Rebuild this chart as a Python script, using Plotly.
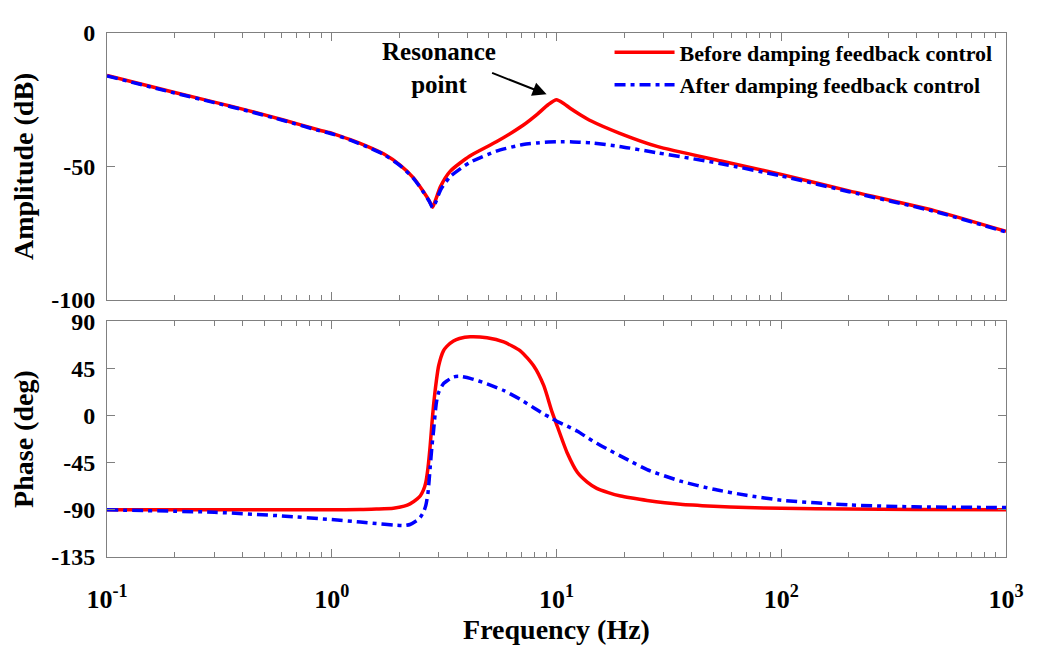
import plotly.graph_objects as go

# amplitude readings (Hz, dB)
freq_mag = [0.1, 0.2, 0.3, 0.43, 0.61, 0.86, 1.02, 1.21, 1.43, 1.7, 2.02, 2.31, 2.56, 2.72, 2.81,
            2.9, 3.05, 3.37, 4.1, 5.4, 7.1, 8.2, 9.2, 10.0, 10.8, 11.5, 12.8, 14.2, 19, 28, 54,
            100, 200, 480, 1000]
mag_before = [-15.9, -22.3, -25.9, -29.2, -32.6, -36.2, -37.8, -40.0, -42.4, -45.3, -49.6, -54.3, -59.5, -63.0, -65.3,
              -62.5, -57.5, -51.8, -46.2, -40.8, -34.6, -30.5, -26.8, -25.0, -26.5, -28.2, -30.7, -32.9, -37.5, -42.5, -48.0,
              -53.0, -59.2, -66.6, -74.4]
mag_after = [-16.1, -22.5, -26.1, -29.4, -32.8, -36.4, -38.0, -40.2, -42.6, -45.5, -49.8, -54.5, -59.7, -63.2, -65.5,
             -63.5, -58.8, -53.8, -48.6, -44.3, -41.8, -41.2, -40.9, -40.8, -40.8, -40.8, -41.0, -41.2, -42.5, -44.9, -49.0,
             -53.6, -59.5, -66.9, -74.6]

# phase readings (Hz, deg)
freq_phase = [0.1, 0.3, 0.6, 1.0, 1.34, 1.58, 1.88, 2.1, 2.23, 2.4, 2.48, 2.56, 2.62, 2.68, 2.74,
              2.79, 2.84, 2.92, 2.99, 3.14, 3.25, 3.48, 3.7, 4.13, 4.91, 5.82, 6.9, 7.91, 8.77,
              9.55, 10.07, 11.15, 12.4, 13.7, 15.1, 17, 19.3, 21.3, 25.3, 35.6, 50, 70, 100,
              200, 390, 1000]
phase_before = [-90, -90, -90, -89.9, -89.7, -89.2, -88.4, -86.5, -84.3, -79.5, -76.5, -71, -64, -50, -29.3,
                -8, 10.5, 33, 47.5, 61.7, 66, 71.1, 73.5, 75.2, 74.2, 70.2, 61.7, 47.5, 28.7,
                3.5, -10, -35.5, -54.4, -63.5, -69.5, -73.5, -76.8, -78.5, -81, -84.6, -86.5, -87.8, -88.5,
                -89.3, -89.7, -90]
phase_after = [-90, -92.3, -95.8, -99.3, -101.6, -103.1, -104.5, -105, -104, -100, -96.9, -92, -86, -74, -50,
               -30, -13.8, 12, 22, 30.5, 33, 36.8, 37.4, 35.5, 30.2, 23.9, 15.4, 7.5, 1.5,
               -2.8, -5.7, -10, -15, -21, -26.5, -32.5, -38.7, -43.5, -51.6, -62.6, -70.4, -76.1, -80.8,
               -85.3, -87.1, -87.8]

decades = [0.1, 1, 10, 100, 1000]
decade_labels = ["10<sup>-1</sup>", "10<sup>0</sup>", "10<sup>1</sup>", "10<sup>2</sup>", "10<sup>3</sup>"]
minor_vals = [m * d for d in decades[:-1] for m in range(2, 10)]
mag_ticks = [-100, -50, 0]
phase_ticks = [-135, -90, -45, 0, 45, 90]

RED = "#ff0000"
BLUE = "#0000ff"
GREY = "#808080"
FONT = "Liberation Serif"
DASHDOT = "11px,5px,4px,5px"

fig = go.Figure()
fig.add_trace(go.Scatter(x=freq_mag, y=mag_before, mode="lines", name="Before damping feedback control",
                         legendgroup="a",
                         line=dict(color=RED, width=3.5, shape="spline", smoothing=0.6), xaxis="x", yaxis="y"))
fig.add_trace(go.Scatter(x=freq_mag, y=mag_after, mode="lines", name="After damping feedback control",
                         legendgroup="b",
                         line=dict(color=BLUE, width=3.5, dash=DASHDOT, shape="spline", smoothing=0.6),
                         xaxis="x", yaxis="y"))
fig.add_trace(go.Scatter(x=freq_phase, y=phase_before, mode="lines", showlegend=False,
                         line=dict(color=RED, width=3.5, shape="spline", smoothing=0.6), xaxis="x2", yaxis="y2"))
fig.add_trace(go.Scatter(x=freq_phase, y=phase_after, mode="lines", showlegend=False,
                         line=dict(color=BLUE, width=3.5, dash=DASHDOT, shape="spline", smoothing=0.6),
                         xaxis="x2", yaxis="y2"))

common_x = dict(
    type="log", range=[-1, 3], showline=True, linecolor=GREY, linewidth=1, mirror="allticks",
    ticks="inside", ticklen=8, tickcolor=GREY, tickvals=decades, showgrid=False, zeroline=False,
    minor=dict(tickvals=minor_vals, ticks="inside", ticklen=5, tickcolor=GREY, showgrid=False),
)
common_y = dict(
    showline=True, linecolor=GREY, linewidth=1, mirror="allticks", ticks="inside", ticklen=8,
    tickcolor=GREY, showgrid=False, zeroline=False, tickfont=dict(size=24), ticklabelstandoff=6,
)

# the page body adds 8px, so margins are trimmed to keep the plot where the reference has it
fig.update_layout(
    width=1045, height=652,
    plot_bgcolor="white", paper_bgcolor="white",
    font=dict(family=FONT, color="black", weight="bold", size=22),
    margin=dict(l=99, r=47, t=19, b=103),
    xaxis=dict(common_x, domain=[0, 1], anchor="y", showticklabels=False),
    yaxis=dict(common_y, domain=[0.491, 1], range=[-100, 0], tickvals=mag_ticks,
               ticktext=[str(v) for v in mag_ticks], anchor="x",
               title=dict(text="Amplitude (dB)", font=dict(size=28), standoff=9)),
    xaxis2=dict(common_x, domain=[0, 1], anchor="y2", ticktext=decade_labels,
                tickfont=dict(size=26), ticklabelstandoff=19,
                title=dict(text="Frequency (Hz)", font=dict(size=28), standoff=4)),
    yaxis2=dict(common_y, domain=[0, 0.45], range=[-135, 90], tickvals=phase_ticks,
                ticktext=[str(v) for v in phase_ticks], anchor="x2",
                title=dict(text="Phase (deg)", font=dict(size=28), standoff=9)),
    legend=dict(x=0.9906, xanchor="right", y=1.003, yanchor="top", bgcolor="rgba(0,0,0,0)",
                font=dict(size=22), itemwidth=60, tracegroupgap=1),
)

fig.add_annotation(x=0.956, y=-23.0, xref="x", yref="y", ax=-56, ay=-22, text="",
                   showarrow=True, arrowhead=2, arrowsize=1.4, arrowwidth=2, arrowcolor="black")
fig.add_annotation(x=0.477, y=-13.0, xref="x", yref="y", text="Resonance<br>point", showarrow=False,
                   font=dict(size=25))

fig.write_html("out.html")
